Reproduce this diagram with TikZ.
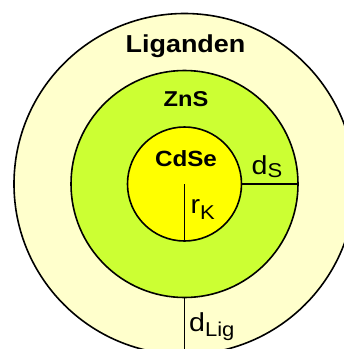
\documentclass[tikz,border=0pt]{standalone}
\usepackage{fontspec}
\setmainfont{Liberation Sans}[FakeStretch=1.1]
\definecolor{ligfill}{HTML}{FFFFCC}
\definecolor{znsfill}{HTML}{CCFF33}
\definecolor{cdsefill}{HTML}{FFFF00}
\tikzset{
  ring/.style={circle, draw=black, line width=1.6pt, inner sep=0pt, outer sep=0pt},
  title/.style={anchor=base, inner sep=0pt, font=\fontsize{#1}{#1}\selectfont\bfseries},
  dim/.style={anchor=base west, inner sep=0pt, font=\fontsize{26}{26}\selectfont},
  radius line/.style={line width=1.6pt}
}
\newcommand{\sublbl}[2][4.5pt]{\raisebox{-#1}{\fontsize{20}{20}\selectfont #2}}
\begin{document}
\begin{tikzpicture}[x=1pt,y=-1pt]
\useasboundingbox (0,0) rectangle (344,349);
\clip (0,0) rectangle (344,349);
\fill[white] (0,0) rectangle (344,349);
\coordinate (c) at (184.5,184);
\node[ring, fill=ligfill, minimum size=341pt] (lig) at (c) {};
\node[ring, fill=znsfill, minimum size=227pt] (shell) at (c) {};
\node[ring, fill=cdsefill, minimum size=114pt] (core) at (c) {};
\draw[radius line] (core.center) -- (core.south);
\draw[radius line] (core.east) -- (shell.east);
\draw[radius line] (shell.south) -- (lig.south);
\node[title=24.5] (tlig) at (185.5,52.5) {Liganden};
\node[title=21.5] (tzns) at (186,106.5) {ZnS};
\node[title=22] (tcdse) at (186,166.5) {CdSe};
\node[dim] (ds) at (251.5,174) {d\sublbl[3.5pt]{S}};
\node[dim] (rk) at (190.5,213.5) {r\sublbl[5.5pt]{K}};
\node[dim] (dlig) at (189,331.5) {d\sublbl{Lig}};
\end{tikzpicture}
\end{document}
